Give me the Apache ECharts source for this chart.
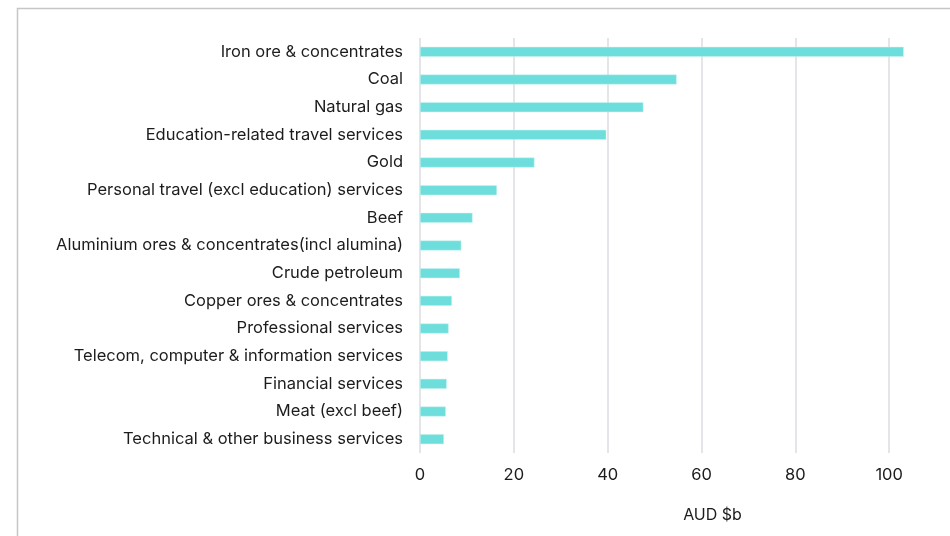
<!DOCTYPE html>
<html>
<head>
<meta charset="utf-8">
<script src="https://cdn.jsdelivr.net/npm/echarts@6/dist/echarts.min.js"></script>
<style>
  html, body { margin: 0; padding: 0; background: #fff; }
  #chart { width: 950px; height: 536px; }
</style>
</head>
<body>
<div id="chart"></div>
<script>
// top export categories, AUD $b
const categories = [
  'Iron ore & concentrates',
  'Coal',
  'Natural gas',
  'Education-related travel services',
  'Gold',
  'Personal travel (excl education) services',
  'Beef',
  'Aluminium ores & concentrates(incl alumina)',
  'Crude petroleum',
  'Copper ores & concentrates',
  'Professional services',
  'Telecom, computer & information services',
  'Financial services',
  'Meat (excl beef)',
  'Technical & other business services'
]
const values = [103.1, 54.7, 47.6, 39.7, 24.4, 16.4, 11.2, 8.8, 8.5, 6.8, 6.1, 5.9, 5.7, 5.5, 5.1]
const axisName = 'AUD $b'

const chart = echarts.init(document.getElementById('chart'))
const font = 'Inter, "Noto Sans", sans-serif'
const textColor = '#1c1c1c'

chart.setOption({
  backgroundColor: '#fff',
  animation: false,
  graphic: [
    {
      type: 'rect',
      shape: { x: 17.5, y: 8.5, width: 940, height: 540 },
      style: { fill: 'none', stroke: '#c6c6c6', lineWidth: 1.5 },
      silent: true
    }
  ],
  grid: {
    left: 420,
    top: 38,
    width: 563,
    height: 415,
    outerBoundsMode: 'none',
    containLabel: false
  },
  xAxis: {
    type: 'value',
    min: 0,
    max: 120,
    interval: 20,
    name: axisName,
    nameLocation: 'middle',
    nameGap: 54,
    nameTextStyle: {
      color: textColor,
      fontSize: 16,
      fontFamily: font,
      padding: [0, 0, 0, 22]
    },
    axisLine: { show: false },
    axisTick: { show: false },
    axisLabel: {
      color: textColor,
      fontSize: 16.5,
      fontFamily: font,
      margin: 14
    },
    splitLine: {
      lineStyle: { color: '#dcdce2', width: 1.5 }
    }
  },
  yAxis: {
    type: 'category',
    inverse: true,
    data: categories,
    axisLine: { show: false },
    axisTick: { show: false },
    axisLabel: {
      color: textColor,
      fontSize: 16.5,
      fontFamily: font,
      margin: 17
    }
  },
  series: [
    {
      type: 'bar',
      data: values,
      barWidth: 10,
      itemStyle: {
        color: '#6ddedb',
        borderColor: '#c8f3f1',
        borderWidth: 0.5
      }
    }
  ]
})
</script>
</body>
</html>
